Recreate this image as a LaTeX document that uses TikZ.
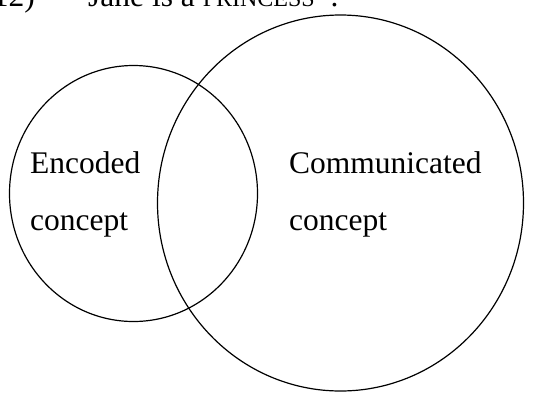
\documentclass[tikz,border=0pt]{standalone}
\usepackage{fontspec}
\setmainfont{Liberation Serif}
\begin{document}
\begin{tikzpicture}[x=1pt,y=-1pt,
  venn/.style={draw=black,line width=1.2pt},
  lbl/.style={inner sep=0pt,anchor=base west,font=\fontsize{31.5}{36}\selectfont}]
\useasboundingbox (0,0) rectangle (533,392);
\clip (0,0) rectangle (533,392);
\draw[venn] (133.5,193.5) ellipse [x radius=124, y radius=128];
\draw[venn] (340.5,203) ellipse [x radius=183, y radius=188];
\node[lbl,anchor=base east] (num) at (35,6) {(12)};
\node[lbl] (ex) at (88,6) {Jane is a {\fontsize{24}{28}\selectfont PRINCESS}*.};
\node[lbl] (enc1) at (30,173) {Encoded};
\node[lbl] (enc2) at (30,230) {concept};
\node[lbl] (com1) at (289,173) {Communicated};
\node[lbl] (com2) at (289,230) {concept};
\end{tikzpicture}
\end{document}
